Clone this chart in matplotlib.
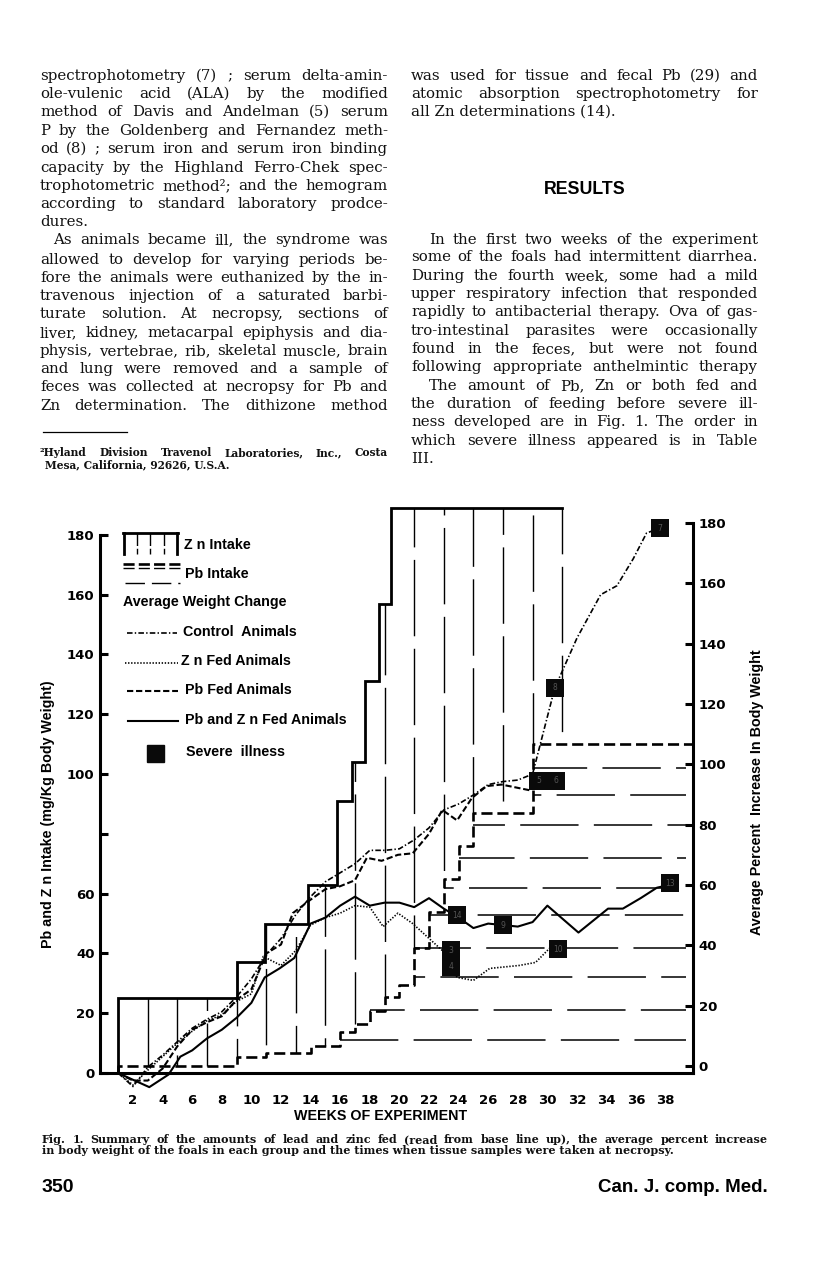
import matplotlib
matplotlib.use('Agg')
import matplotlib.pyplot as plt
from matplotlib.lines import Line2D
from matplotlib.patches import Rectangle

W, H = 816, 1271

# ---- chart data (weeks, mg/kg, % gain) ----
zn_edges = [1, 9, 10.9, 13.8, 15.8, 16.8, 17.7, 18.6, 19.4, 31]
zn_levels = [25, 37, 50, 63, 91, 104, 131, 157, 189]
pb_edges = [1, 9, 11, 14, 16, 17, 18, 19, 20, 21, 22, 23, 24, 25, 29, 39.8]
pb_levels = [2.3, 5.4, 6.7, 9, 13.7, 16.4, 20.7, 25.4, 29.4, 42, 54, 65, 76, 87, 110]
zn_hatch_weeks = [3, 5, 7, 9, 11, 13, 15, 17, 19, 21, 23, 25, 27, 29, 31]
pb_hatch_levels = [11, 21, 32, 42, 53, 62, 72, 83, 93, 102]

control_weeks = [1, 2, 3, 4, 5, 6, 7, 8, 9, 10, 11, 12, 13, 14, 15, 16, 17, 18, 19, 20,
                 21, 22, 23, 24, 25, 26, 27, 28, 29, 30.5, 32, 33.6, 34.7, 35.8, 36.7, 37.6]
control_gain = [0, -4.5, 2, 6, 10.5, 15, 18, 20.5, 25.5, 31.5, 39.5, 45, 53, 59, 64, 67, 70,
                74.5, 74.5, 75, 78, 82, 88, 90, 93, 96.5, 97.5, 98, 100,
                128.8, 145.5, 160, 163, 172, 180.6, 182.3]

znfed_weeks = [1, 2, 3, 4, 5, 6, 7, 8, 9, 10, 10.8, 12, 13, 14, 15, 16, 17, 18, 18.9, 19.9,
               20.9, 21.9, 22.9, 23.9, 25, 26.1, 27.1, 28.1, 29.2, 30.2]
znfed_gain = [0, -4, 1, 5.5, 10, 14, 17.5, 19.5, 24, 26.5, 39, 36, 41, 49.5, 52, 53.5, 56,
              55.5, 49, 53.5, 50, 45.5, 41, 32, 31, 35, 35.5, 36, 37, 42]

pbfed_weeks = [1, 2, 3, 4, 5, 6, 7, 8, 9, 10, 11, 12, 12.8, 14, 15, 16, 17, 17.8, 18.8,
               19.9, 20.9, 22, 22.9, 23.9, 24.9, 25.9, 26.9, 28.8]
pbfed_gain = [0, -2.5, -2.5, 1.5, 9, 14.5, 17, 19, 24.5, 28, 40, 43, 53.5, 58, 61.5, 62.5,
              64.5, 72, 71, 73, 73.5, 80, 88, 84.5, 92, 96, 96.5, 94.6]

both_weeks = [1, 3.1, 4.4, 5.2, 6, 7, 8, 9, 10, 10.9, 11.9, 12.9, 14, 15, 16, 17, 18, 19, 20,
              21, 22, 23, 24, 25, 26, 27, 28, 29, 30, 32.1, 33.1, 34.1, 35.1, 36.3, 37.4, 38.3]
both_gain = [0, -4.7, -0.5, 5.5, 7.6, 11.6, 14.5, 18.5, 23.5, 32, 35, 38.5, 50, 52, 56, 59,
             56, 57, 57, 55.5, 58.5, 55, 52, 48.5, 50, 49.5, 49, 50.5, 56, 47, 51, 55, 55,
             58.5, 62, 63]

ill_weeks = [23.9, 27.0, 38.3, 23.5, 23.5, 30.7, 29.4, 30.6, 30.5, 37.6]
ill_values = [52.8, 49.5, 63.5, 41, 35.5, 41.5, 97.7, 97.7, 128.8, 182.3]
ill_labels = ['14', '9', '13', '3', '4', '10', '5', '6', '8', '7']

week_ticks = list(range(2, 40, 2))
left_ticks = list(range(0, 181, 20))
left_labels = ['0', '20', '40', '60', '', '100', '120', '140', '160', '180']
right_ticks = list(range(0, 181, 20))

left_text = [
    ("spectrophotometry (7) ; serum delta-amin-", 76, 40, True),
    ("ole-vulenic acid (ALA) by the modified", 94, 40, True),
    ("method of Davis and Andelman (5) serum", 112, 40, True),
    ("P by the Goldenberg and Fernandez meth-", 131, 40, True),
    ("od (8) ; serum iron and serum iron binding", 149, 40, True),
    ("capacity by the Highland Ferro-Chek spec-", 168, 40, True),
    ("trophotometric method\u00b2; and the hemogram", 186, 40, True),
    ("according to standard laboratory prodce-", 204, 40, True),
    ("dures.", 222, 40, False),
    ("As animals became ill, the syndrome was", 240, 53, True),
    ("allowed to develop for varying periods be-", 260, 40, True),
    ("fore the animals were euthanized by the in-", 278, 40, True),
    ("travenous injection of a saturated barbi-", 296, 40, True),
    ("turate solution. At necropsy, sections of", 314, 40, True),
    ("liver, kidney, metacarpal epiphysis and dia-", 333, 40, True),
    ("physis, vertebrae, rib, skeletal muscle, brain", 351, 40, True),
    ("and lung were removed and a sample of", 369, 40, True),
    ("feces was collected at necropsy for Pb and", 387, 40, True),
    ("Zn determination. The dithizone method", 406, 40, True),
]
right_text = [
    ("was used for tissue and fecal Pb (29) and", 76, 411, True),
    ("atomic absorption spectrophotometry for", 94, 411, True),
    ("all Zn determinations (14).", 112, 411, False),
    ("In the first two weeks of the experiment", 240, 429, True),
    ("some of the foals had intermittent diarrhea.", 257, 411, True),
    ("During the fourth week, some had a mild", 276, 411, True),
    ("upper respiratory infection that responded", 294, 411, True),
    ("rapidly to antibacterial therapy. Ova of gas-", 312, 411, True),
    ("tro-intestinal parasites were occasionally", 331, 411, True),
    ("found in the feces, but were not found", 349, 411, True),
    ("following appropriate anthelmintic therapy", 367, 411, True),
    ("The amount of Pb, Zn or both fed and", 386, 429, True),
    ("the duration of feeding before severe ill-", 404, 411, True),
    ("ness developed are in Fig. 1. The order in", 422, 411, True),
    ("which severe illness appeared is in Table", 441, 411, True),
    ("III.", 459, 411, False),
]

plt.rcParams['lines.scale_dashes'] = False
plt.rcParams['font.family'] = ['DejaVu Sans']

fig = plt.figure(figsize=(W / 100, H / 100), dpi=100)
fig.patch.set_facecolor('white')
renderer = fig.canvas.get_renderer()


def fx(px):
    return px / W


def fy(py):
    return 1 - py / H


def put_line(text, y, x0, x1=None, size=10.8, min_gap=3.5, **kw):
    """Draw one line of text; when x1 is given the words are spread out to reach it,
    shrinking the font a little if the line would not fit."""
    base = fy(y + 4)
    if x1 is None:
        fig.text(fx(x0), base, text, fontsize=size, va='baseline', ha='left', **kw)
        return
    words = text.split(' ')
    s = size
    while True:
        arts = [fig.text(0, base, w, fontsize=s, va='baseline', ha='left', **kw) for w in words]
        widths = [a.get_window_extent(renderer).width for a in arts]
        gap = (x1 - x0 - sum(widths)) / (len(words) - 1)
        if gap >= min_gap or s < 6:
            break
        for a in arts:
            a.remove()
        s -= 0.2
    x = x0
    for a, wd in zip(arts, widths):
        a.set_x(fx(x))
        x += wd + gap


serif = dict(family='DejaVu Serif', color='#111111')
for txt, y, x0, just in left_text:
    put_line(txt, y, x0, 388 if just else None, **serif)
for txt, y, x0, just in right_text:
    put_line(txt, y, x0, 758 if just else None, **serif)

fig.text(fx(585), fy(189), 'RESULTS', fontsize=12.8, fontweight='bold',
         family='Liberation Sans', ha='center', va='center')

fig.add_artist(Line2D([fx(43), fx(127)], [fy(432), fy(432)], color='k', lw=0.9))
put_line("\u00b2Hyland Division Travenol Laboratories, Inc., Costa", 452, 40, 388,
         size=7.7, min_gap=2, fontweight='bold', **serif)
put_line("Mesa, California, 92626, U.S.A.", 464, 45, None,
         size=7.7, fontweight='bold', **serif)

put_line("Fig. 1. Summary of the amounts of lead and zinc fed (read from base line up), "
         "the average percent increase", 1139, 42, 768, size=8.0, min_gap=2.5,
         fontweight='bold', **serif)
put_line("in body weight of the foals in each group and the times when tissue samples "
         "were taken at necropsy.", 1150, 42, None, size=8.0, fontweight='bold', **serif)

fig.text(fx(42), fy(1188), '350', fontsize=14, fontweight='bold',
         family='Liberation Sans', ha='left', va='center')
fig.text(fx(768), fy(1187), 'Can. J. comp. Med.', fontsize=13.5, fontweight='bold',
         family='Liberation Sans', ha='right', va='center')

# ---- chart ----
ax = fig.add_axes([fx(100), fy(1097), 593 / W, 592 / H])
ax.set_xlim(-0.23, 39.84)
ax.set_ylim(-8, 190)
ax.set_facecolor('none')


def step_path(edges, levels):
    xs, ys = [edges[0]], [0]
    for i, lv in enumerate(levels):
        xs += [edges[i], edges[i + 1]]
        ys += [lv, lv]
    return xs, ys


def level_at(edges, levels, w):
    for i in range(len(levels)):
        if edges[i] <= w < edges[i + 1]:
            return levels[i]
    return levels[-1]


xs, ys = step_path(zn_edges, zn_levels)
ax.plot(xs, ys, color='k', lw=2.0, zorder=3, solid_joinstyle='miter')
xs, ys = step_path(pb_edges, pb_levels)
ax.plot(xs, ys, color='k', lw=1.9, ls=(0, (8, 3.5)), zorder=3)

for i, w in enumerate(zn_hatch_weeks):
    top = level_at(zn_edges, zn_levels, w)
    bot = level_at(pb_edges, pb_levels, w)
    ax.plot([w, w], [top, bot], color='k', lw=1.0, ls=((i * 23) % 60, (55, 9)), zorder=2)

for i, lv in enumerate(pb_hatch_levels):
    start = next(e for e, l in zip(pb_edges, pb_levels) if l >= lv - 1)
    ax.plot([start, 39.4], [lv, lv], color='k', lw=1.1, ls=((i * 17) % 50, (42, 11)), zorder=2)

ax.plot(control_weeks, control_gain, color='k', lw=1.2, ls=(0, (4, 1.6, 1, 1.6)), zorder=4)
ax.plot(znfed_weeks, znfed_gain, color='k', lw=1.2, ls=(0, (1, 1.2)), zorder=4)
ax.plot(pbfed_weeks, pbfed_gain, color='k', lw=1.5, ls=(0, (4.5, 2)), zorder=4)
ax.plot(both_weeks, both_gain, color='k', lw=1.5, zorder=4)

ax.scatter(ill_weeks, ill_values, marker='s', s=150, color='#0a0a0a', zorder=6, linewidths=0)
for w, v, lab in zip(ill_weeks, ill_values, ill_labels):
    ax.text(w, v, lab, fontsize=5.5, color='#555555', ha='center', va='center', zorder=7)

for side in ['top', 'right']:
    ax.spines[side].set_visible(False)
ax.spines['left'].set_linewidth(2.2)
ax.spines['left'].set_bounds(0, 180)
ax.spines['bottom'].set_linewidth(2.2)
ax.spines['bottom'].set_position(('data', 0))
ax.spines['bottom'].set_bounds(-0.23, 39.84)

tick_font = dict(family='DejaVu Sans', weight='bold')
ax.set_yticks(left_ticks)
ax.set_yticklabels(left_labels, fontsize=9.5, **tick_font)
ax.tick_params(axis='y', direction='in', length=6, width=2.2, pad=4)
ax.set_xticks(week_ticks)
ax.set_xticklabels([str(w) for w in week_ticks], fontsize=9.5, **tick_font)
ax.tick_params(axis='x', length=0, pad=15)

ax2 = ax.twinx()
ax2.set_ylim(-10.26, 185.9)
for side in ['top', 'left', 'bottom']:
    ax2.spines[side].set_visible(False)
ax2.spines['right'].set_linewidth(2.2)
ax2.spines['right'].set_bounds(-2.3, 180)
ax2.set_yticks(right_ticks)
ax2.set_yticklabels([str(t) for t in right_ticks], fontsize=9.5, **tick_font)
ax2.tick_params(axis='y', direction='in', length=6, width=2.2, pad=4)

lab = dict(fontsize=10.3, fontweight='bold', family='Liberation Sans')
fig.text(fx(381), fy(1116), 'WEEKS OF EXPERIMENT', ha='center', va='center', **lab)
fig.text(fx(48), fy(814), 'Pb and Z n Intake (mg/Kg Body Weight)', rotation=90,
         ha='center', va='center', **lab)
fig.text(fx(757), fy(792), 'Average Percent  Increase In Body Weight', rotation=90,
         ha='center', va='center', **lab)

# ---- legend drawn inside the plot area ----


def seg(x0, x1, y0, y1, **kw):
    fig.add_artist(Line2D([fx(x0), fx(x1)], [fy(y0), fy(y1)], color='k', **kw))


seg(123, 178, 533, 533, lw=2.0)
seg(124, 124, 533, 554, lw=2.0)
seg(177, 177, 533, 554, lw=2.0)
for xv in [137, 150, 164]:
    seg(xv, xv, 533, 554, lw=1.0, ls=(0, (9, 2)))
seg(123, 180, 564, 564, lw=1.9, ls=(0, (8, 3)))
seg(123, 180, 568, 568, lw=1.0, ls=(0, (8, 3)))
seg(125, 180, 583, 583, lw=1.0, ls=(0, (14, 5)))
seg(127, 177, 633, 633, lw=1.2, ls=(0, (4, 1.6, 1, 1.6)))
seg(125, 178, 663, 663, lw=1.2, ls=(0, (1, 1.2)))
seg(127, 178, 691, 691, lw=1.5, ls=(0, (4.5, 2)))
seg(128, 178, 721, 721, lw=1.5)
fig.add_artist(Rectangle((fx(147), fy(762)), 17 / W, 17 / H, color='#0a0a0a'))

fig.text(fx(184), fy(545), 'Z n Intake', va='center', **lab)
fig.text(fx(185), fy(574), 'Pb Intake', va='center', **lab)
fig.text(fx(123), fy(602), 'Average Weight Change', va='center', **lab)
fig.text(fx(183), fy(632), 'Control  Animals', va='center', **lab)
fig.text(fx(181), fy(661), 'Z n Fed Animals', va='center', **lab)
fig.text(fx(185), fy(690), 'Pb Fed Animals', va='center', **lab)
fig.text(fx(185), fy(720), 'Pb and Z n Fed Animals', va='center', **lab)
fig.text(fx(186), fy(752), 'Severe  illness', va='center', **lab)

fig.savefig('out.png', dpi=100)
